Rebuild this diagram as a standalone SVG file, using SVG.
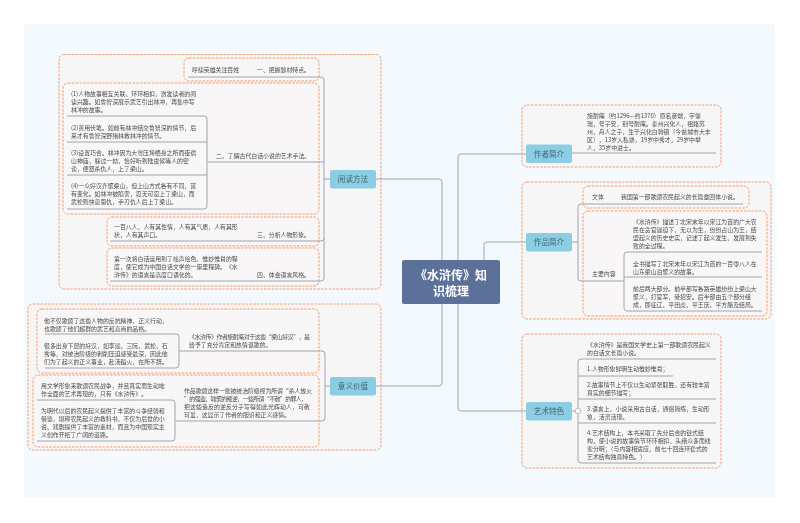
<svg xmlns="http://www.w3.org/2000/svg" width="800" height="523" viewBox="0 0 800 523">
<defs>
<filter id="soft" x="-2%" y="-2%" width="104%" height="104%"><feGaussianBlur stdDeviation="0.3"/></filter>
</defs>
<style>
text{font-family:"Noto Sans CJK SC","Noto Sans",sans-serif;}
.t{font-size:5.9px;fill:#4c4c4c;}
.n{font-size:7.6px;fill:#44657a;text-anchor:middle;}
.c{font-size:12px;font-weight:700;fill:#fff;text-anchor:middle;}
.b{fill:#f8f6f6;stroke:#f39f74;stroke-width:1;stroke-dasharray:2.6 1.2;}
.o{fill:#f7f6f7;stroke:#f39f74;stroke-width:1;stroke-dasharray:2.6 1.2;}
.nb{fill:#8bcde3;}
.l{fill:none;stroke:#a0a5b0;stroke-width:1;}
.soft{filter:url(#soft);}
</style>
<rect x="0" y="0" width="800" height="523" fill="#ffffff"/>
<rect x="24" y="24" width="751" height="473" fill="#f4f9fd"/>
<g id="frames">
<rect class="o" x="59" y="54.5" width="322" height="234.5" rx="5"/>
<rect class="b" x="184" y="58" width="135" height="23" rx="5"/>
<rect class="b" x="63" y="83" width="256" height="131" rx="5"/>
<rect class="b" x="107" y="217" width="212" height="29" rx="5"/>
<rect class="b" x="107" y="248" width="212" height="38" rx="5"/>
<rect class="o" x="28" y="304" width="353" height="146" rx="5"/>
<rect class="b" x="37" y="309" width="282" height="64" rx="5"/>
<rect class="b" x="33" y="375" width="286" height="72" rx="5"/>
<rect class="o" x="522" y="105" width="199" height="62" rx="5"/>
<rect class="o" x="522" y="182" width="249" height="137" rx="5"/>
<rect class="b" x="583" y="186" width="166" height="22" rx="5"/>
<rect class="b" x="583" y="211" width="184" height="105" rx="5"/>
<rect class="o" x="522" y="334" width="199" height="134" rx="5"/>
</g>
<g id="connectors" class="soft">
<path class="l" d="M442 260V182Q442 179 439 179H376"/>
<path class="l" d="M442 304V383Q442 386 439 386H376"/>
<path class="l" d="M458 260V157Q458 154 461 154H526"/>
<path class="l" d="M484 260V245Q484 242 487 242H526"/>
<path class="l" d="M458 304V408Q458 411 461 411H526"/>
<path class="l" d="M330 179H324"/>
<path class="l" d="M188 77H321Q324 77 324 80V278Q324 281 321 281H110"/>
<path class="l" d="M207 162H324"/>
<path class="l" d="M110 241H321Q324 241 324 238"/>
<path class="l" d="M67 116H204Q207 116 207 119V206Q207 209 204 209H67"/>
<path class="l" d="M67 142H207M67 175H207"/>
<path class="l" d="M330 386H325"/>
<path class="l" d="M179 351H322Q325 351 325 354V418Q325 421 322 421H175"/>
<path class="l" d="M45 334H176Q179 334 179 337V365Q179 368 176 368H45"/>
<path class="l" d="M37 400H172Q175 400 175 403V438Q175 441 172 441H37"/>
<path class="l" d="M572 153H716"/>
<path class="l" d="M572 242H578"/>
<path class="l" d="M743 204H581Q578 204 578 207V278Q578 281 581 281H624"/>
<path class="l" d="M762 252H627Q624 252 624 255V308Q624 311 627 311H762"/>
<path class="l" d="M624 277H762"/>
<path class="l" d="M572 411H578"/>
<path class="l" d="M716 359H581Q578 359 578 362V460Q578 463 581 463H716"/>
<path class="l" d="M578 376H673M578 399H716M578 423H716"/>
<circle cx="578" cy="411" r="2.8" fill="#fff" stroke="#a6abb5" stroke-width="0.8"/>
</g>
<g id="root"><rect x="402" y="260" width="98" height="44" rx="2" fill="#5c7199"/>
<text class="c soft" x="451" y="279.5">《水浒传》知</text><text class="c soft" x="451" y="295.5">识梳理</text></g>
<g id="node-yuedu"><rect class="nb" x="330" y="170" width="46" height="18.5" rx="2"/><text class="n soft" x="353" y="182">阅读方法</text></g>
<g id="node-yiyi"><rect class="nb" x="330" y="377" width="46" height="18.5" rx="2"/><text class="n soft" x="353" y="389">意义价值</text></g>
<g id="node-zuozhe"><rect class="nb" x="526" y="144.5" width="46" height="18.5" rx="2"/><text class="n soft" x="549" y="156.5">作者简介</text></g>
<g id="node-zuopin"><rect class="nb" x="526" y="233" width="46" height="18.5" rx="2"/><text class="n soft" x="549" y="245">作品简介</text></g>
<g id="node-yishu"><rect class="nb" x="526" y="402" width="46" height="18.5" rx="2"/><text class="n soft" x="549" y="414">艺术特色</text></g>
<g id="left-top-texts" class="soft">
<text class="t" x="192" y="72.2">呼续英雄关注百姓</text>
<text class="t" x="257" y="72.2">一、把握题材特点。</text>
<text class="t" x="71" y="96.2">(1)人物故事相互关联、环环相扣，激发读者的阅</text>
<text class="t" x="71" y="104.2">读兴趣。如鲁智深展示武艺引出林冲，再集中写</text>
<text class="t" x="71" y="112.2">林冲的故事。</text>
<text class="t" x="71" y="130.2">(2)善用伏笔。如前有林冲结交鲁智深的情节，后</text>
<text class="t" x="71" y="138.2">来才有鲁智深野猪林救林冲的情节。</text>
<text class="t" x="71" y="155.2">(3)设置巧合。林冲因为大雪压垮栖身之所而夜宿</text>
<text class="t" x="71" y="163.2">山神庙，躲过一劫，恰好听到陆虞候等人的密</text>
<text class="t" x="71" y="171.2">谈，便怒杀仇人，上了梁山。</text>
<text class="t" x="71" y="188.2">(4)一众好汉齐聚梁山，但上山方式各有不同，富</text>
<text class="t" x="71" y="196.2">有变化。如林冲被陷害，忍无可忍上了梁山，而</text>
<text class="t" x="71" y="204.2">武松则快意恩仇，手刃仇人后上了梁山。</text>
<text class="t" x="216" y="158.2">二、了解古代白话小说的艺术手法。</text>
<text class="t" x="114" y="229.2">一百八人，人有其性情，人有其气质，人有其形</text>
<text class="t" x="114" y="237.2">状，人有其声口。</text>
<text class="t" x="257" y="237.2">三、分析人物形象。</text>
<text class="t" x="114" y="261.2">第一次将白话运用到了绘声绘色、惟妙惟肖的程</text>
<text class="t" x="114" y="269.2">度，使它成为中国白话文学的一座里程碑。《水</text>
<text class="t" x="114" y="277.2">浒传》的语言是高度口语化的。</text>
<text class="t" x="257" y="277.2">四、体会语言风格。</text>
</g>
<g id="left-bottom-texts" class="soft">
<text class="t" x="44" y="322.8">他不仅歌颂了这些人物的反抗精神、正义行动，</text>
<text class="t" x="44" y="330.8">也歌颂了他们超群的武艺和高尚的品格。</text>
<text class="t" x="44" y="347.8">很多出身下层的好汉，如李逵、三阮、武松、石</text>
<text class="t" x="44" y="355.8">秀等，对统治阶级的剥削压迫感受最深，因此他</text>
<text class="t" x="44" y="363.8">们为了起义的正义事业，赴汤蹈火，在所不辞。</text>
<text class="t" x="189" y="339.2" textLength="121">《水浒传》作者施耐庵对于这些“梁山好汉”，是</text>
<text class="t" x="189" y="347.2">给予了充分肯定和热情讴歌的。</text>
<text class="t" x="41" y="388.2">用文学形象来歌颂农民战争，并且真实而生动地</text>
<text class="t" x="41" y="396.2">作全面的艺术再现的，只有《水浒传》。</text>
<text class="t" x="41" y="413.2">为明代以后的农民起义提供了丰富的斗争经验和</text>
<text class="t" x="41" y="421.2">借鉴，堪称农民起义的教科书，不仅为后世的小</text>
<text class="t" x="41" y="429.2">说、戏剧提供了丰富的素材，而且为中国现实主</text>
<text class="t" x="41" y="437.2">义创作开拓了广阔的道路。</text>
<text class="t" x="184" y="392.8" textLength="128">作品歌颂这样一批被统治阶级视为所谓“杀人放火</text>
<text class="t" x="184" y="400.8" textLength="123">”的强盗、啸聚的叛逆，一些所谓“不赦”的罪人，</text>
<text class="t" x="184" y="408.8" textLength="126">把这些造反的逆反分子写得如此光辉动人，可敬</text>
<text class="t" x="184" y="416.8">可爱，这显示了作者的胆识和正义感情。</text>
</g>
<g id="right-texts" class="soft">
<text class="t" x="587" y="117.6">施耐庵（约1296—约1370）原名彦端，字肇</text>
<text class="t" x="587" y="125.6">瑞，号子安，别号耐庵。泰州兴化人，祖籍苏</text>
<text class="t" x="587" y="133.6">州，舟人之子，生于兴化白驹镇（今盐城市大丰</text>
<text class="t" x="587" y="141.6">区），13岁入私塾，19岁中秀才，29岁中举</text>
<text class="t" x="587" y="149.6">人，35岁中进士。</text>
<text class="t" x="592" y="199.2">文体</text>
<text class="t" x="621" y="199.2">我国第一部歌颂农民起义的长篇章回体小说。</text>
<text class="t" x="592" y="276.2">主要内容</text>
<text class="t" x="633" y="224.2">《水浒传》描述了北宋末年以宋江为首的广大农</text>
<text class="t" x="633" y="232.2">民在贪官逼迫下，无以为生，纷纷占山为王，结</text>
<text class="t" x="633" y="240.2">盟起义的历史史实，记述了起义发生、发展到失</text>
<text class="t" x="633" y="248.2">败的全过程。</text>
<text class="t" x="633" y="265.6">全书描写了北宋末年以宋江为首的一百零八人在</text>
<text class="t" x="633" y="273.6">山东梁山泊聚义的故事。</text>
<text class="t" x="633" y="290.6">前后两大部分。前半部写各路英雄纷纷上梁山大</text>
<text class="t" x="633" y="298.6">聚义，打官军，受招安。后半部由五个部分组</text>
<text class="t" x="633" y="306.6">成，即征辽、平田虎、平王庆、平方腊及结局。</text>
<text class="t" x="587" y="347.2">《水浒传》是我国文学史上第一部歌颂农民起义</text>
<text class="t" x="587" y="355.2">的白话文长篇小说。</text>
<text class="t" x="587" y="371.2">1.人物形象鲜明生动惟妙惟肖；</text>
<text class="t" x="587" y="387.2">2.故事情节上不仅以生动紧张取胜，还有较丰富</text>
<text class="t" x="587" y="395.2">真实的细节描写；</text>
<text class="t" x="587" y="411.2">3.语言上，小说采用古白话，通俗简练，生动形</text>
<text class="t" x="587" y="419.2">象，活灵活现。</text>
<text class="t" x="587" y="435">4.艺术结构上，本书采取了先分后合的链式结</text>
<text class="t" x="587" y="443">构，使小说的故事情节环环相扣，头绪众多而线</text>
<text class="t" x="587" y="451">索分明；（与内容相适应，前七十回连环套式的</text>
<text class="t" x="587" y="459">艺术结构独具特色。）</text>
</g>
</svg>
